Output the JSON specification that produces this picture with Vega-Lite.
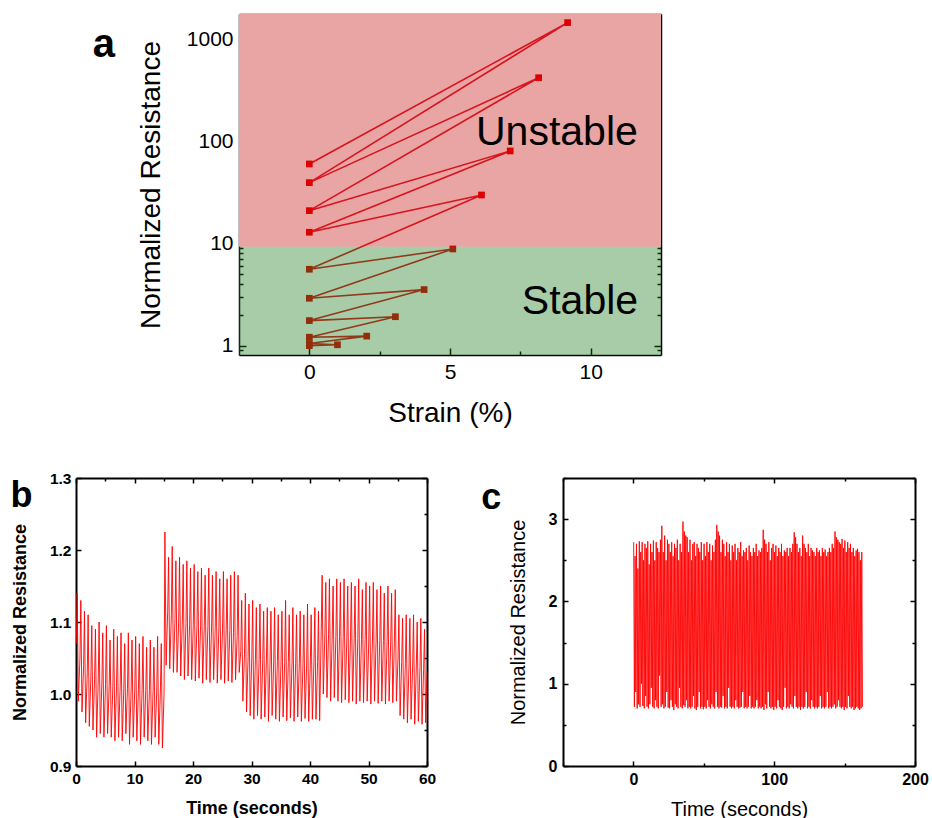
{
 "$schema": "https://vega.github.io/schema/vega-lite/v6.json",
 "padding": {"left": 10, "top": 13, "right": 0, "bottom": 0},
 "background": "white",
 "config": {
  "view": {"stroke": null},
  "font": "Liberation Sans",
  "axis": {"grid": false, "labelColor": "black", "titleColor": "black", "domainColor": "black", "tickColor": "black", "zindex": 1, "labelFont": "Liberation Sans", "titleFont": "Liberation Sans", "labelOverlap": false, "labelFlush": false}
 },
 "datasets": {
  "a": [{"i":1,"s":0,"r":1.0},{"i":2,"s":1.0,"r":1.02},{"i":3,"s":0,"r":1.05},{"i":4,"s":2.04,"r":1.24},{"i":5,"s":0,"r":1.21},{"i":6,"s":3.06,"r":1.92},{"i":7,"s":0,"r":1.76},{"i":8,"s":4.08,"r":3.54},{"i":9,"s":0,"r":2.91},{"i":10,"s":5.1,"r":8.85},{"i":11,"s":0,"r":5.6},{"i":12,"s":6.12,"r":29.9},{"i":13,"s":0,"r":12.9},{"i":14,"s":7.14,"r":80.7},{"i":15,"s":0,"r":21.0},{"i":16,"s":8.15,"r":421},{"i":17,"s":0,"r":39.5},{"i":18,"s":9.18,"r":1458},{"i":19,"s":0,"r":60.2}],
  "b": [
{"t":0.05,"r":1.07},{"t":0.2,"r":1.14},{"t":0.4,"r":0.99},
{"t":0.675,"r":1.05},{"t":0.825,"r":1.13},{"t":1.025,"r":0.975},
{"t":1.3,"r":1.04},{"t":1.45,"r":1.115},{"t":1.65,"r":0.96},
{"t":1.925,"r":1.03},{"t":2.075,"r":1.11},{"t":2.275,"r":0.955},
{"t":2.55,"r":1.025},{"t":2.7,"r":1.095},{"t":2.9,"r":0.95},
{"t":3.175,"r":1.02},{"t":3.325,"r":1.09},{"t":3.525,"r":0.94},
{"t":3.8,"r":1.018},{"t":3.95,"r":1.1},{"t":4.15,"r":0.945},
{"t":4.425,"r":1.015},{"t":4.575,"r":1.085},{"t":4.775,"r":0.94},
{"t":5.05,"r":1.013},{"t":5.2,"r":1.095},{"t":5.4,"r":0.945},
{"t":5.675,"r":1.012},{"t":5.825,"r":1.075},{"t":6.025,"r":0.94},
{"t":6.3,"r":1.01},{"t":6.45,"r":1.09},{"t":6.65,"r":0.935},
{"t":6.925,"r":1.01},{"t":7.075,"r":1.08},{"t":7.275,"r":0.94},
{"t":7.55,"r":1.01},{"t":7.7,"r":1.085},{"t":7.9,"r":0.935},
{"t":8.175,"r":1.008},{"t":8.325,"r":1.07},{"t":8.525,"r":0.945},
{"t":8.8,"r":1.008},{"t":8.95,"r":1.085},{"t":9.15,"r":0.93},
{"t":9.425,"r":1.007},{"t":9.575,"r":1.075},{"t":9.775,"r":0.94},
{"t":10.05,"r":1.007},{"t":10.2,"r":1.08},{"t":10.4,"r":0.935},
{"t":10.675,"r":1.006},{"t":10.825,"r":1.07},{"t":11.025,"r":0.93},
{"t":11.3,"r":1.006},{"t":11.45,"r":1.08},{"t":11.65,"r":0.94},
{"t":11.925,"r":1.005},{"t":12.075,"r":1.065},{"t":12.275,"r":0.935},
{"t":12.55,"r":1.005},{"t":12.7,"r":1.075},{"t":12.9,"r":0.93},
{"t":13.175,"r":1.005},{"t":13.325,"r":1.065},{"t":13.525,"r":0.94},
{"t":13.8,"r":1.004},{"t":13.95,"r":1.08},{"t":14.15,"r":0.93},
{"t":14.425,"r":1.004},{"t":14.575,"r":1.07},{"t":14.775,"r":0.925},
{"t":15.05,"r":1.0},{"t":15.2,"r":1.225},{"t":15.4,"r":1.04},
{"t":15.675,"r":1.115},{"t":15.825,"r":1.19},{"t":16.025,"r":1.035},
{"t":16.3,"r":1.11},{"t":16.45,"r":1.205},{"t":16.65,"r":1.03},
{"t":16.925,"r":1.105},{"t":17.075,"r":1.185},{"t":17.275,"r":1.03},
{"t":17.55,"r":1.1},{"t":17.7,"r":1.19},{"t":17.9,"r":1.025},
{"t":18.175,"r":1.1},{"t":18.325,"r":1.18},{"t":18.525,"r":1.02},
{"t":18.8,"r":1.098},{"t":18.95,"r":1.185},{"t":19.15,"r":1.025},
{"t":19.425,"r":1.097},{"t":19.575,"r":1.175},{"t":19.775,"r":1.02},
{"t":20.05,"r":1.096},{"t":20.2,"r":1.18},{"t":20.4,"r":1.018},
{"t":20.675,"r":1.095},{"t":20.825,"r":1.17},{"t":21.025,"r":1.022},
{"t":21.3,"r":1.095},{"t":21.45,"r":1.175},{"t":21.65,"r":1.015},
{"t":21.925,"r":1.094},{"t":22.075,"r":1.165},{"t":22.275,"r":1.02},
{"t":22.55,"r":1.094},{"t":22.7,"r":1.175},{"t":22.9,"r":1.016},
{"t":23.175,"r":1.093},{"t":23.325,"r":1.165},{"t":23.525,"r":1.02},
{"t":23.8,"r":1.092},{"t":23.95,"r":1.17},{"t":24.15,"r":1.015},
{"t":24.425,"r":1.092},{"t":24.575,"r":1.16},{"t":24.775,"r":1.02},
{"t":25.05,"r":1.09},{"t":25.2,"r":1.17},{"t":25.4,"r":1.015},
{"t":25.675,"r":1.09},{"t":25.825,"r":1.16},{"t":26.025,"r":1.018},
{"t":26.3,"r":1.088},{"t":26.45,"r":1.165},{"t":26.65,"r":1.016},
{"t":26.925,"r":1.085},{"t":27.075,"r":1.17},{"t":27.275,"r":1.02},
{"t":27.55,"r":1.08},{"t":27.7,"r":1.165},{"t":27.9,"r":1.03},
{"t":28.175,"r":1.06},{"t":28.325,"r":1.13},{"t":28.525,"r":0.99},
{"t":28.8,"r":1.055},{"t":28.95,"r":1.14},{"t":29.15,"r":0.975},
{"t":29.425,"r":1.052},{"t":29.575,"r":1.125},{"t":29.775,"r":0.97},
{"t":30.05,"r":1.05},{"t":30.2,"r":1.13},{"t":30.4,"r":0.965},
{"t":30.675,"r":1.05},{"t":30.825,"r":1.12},{"t":31.025,"r":0.97},
{"t":31.3,"r":1.048},{"t":31.45,"r":1.125},{"t":31.65,"r":0.965},
{"t":31.925,"r":1.048},{"t":32.075,"r":1.115},{"t":32.275,"r":0.968},
{"t":32.55,"r":1.047},{"t":32.7,"r":1.12},{"t":32.9,"r":0.962},
{"t":33.175,"r":1.046},{"t":33.325,"r":1.115},{"t":33.525,"r":0.97},
{"t":33.8,"r":1.046},{"t":33.95,"r":1.12},{"t":34.15,"r":0.965},
{"t":34.425,"r":1.045},{"t":34.575,"r":1.11},{"t":34.775,"r":0.962},
{"t":35.05,"r":1.045},{"t":35.2,"r":1.115},{"t":35.4,"r":0.968},
{"t":35.675,"r":1.044},{"t":35.825,"r":1.13},{"t":36.025,"r":0.963},
{"t":36.3,"r":1.044},{"t":36.45,"r":1.11},{"t":36.65,"r":0.967},
{"t":36.925,"r":1.043},{"t":37.075,"r":1.12},{"t":37.275,"r":0.962},
{"t":37.55,"r":1.042},{"t":37.7,"r":1.11},{"t":37.9,"r":0.968},
{"t":38.175,"r":1.042},{"t":38.325,"r":1.115},{"t":38.525,"r":0.962},
{"t":38.8,"r":1.041},{"t":38.95,"r":1.11},{"t":39.15,"r":0.966},
{"t":39.425,"r":1.04},{"t":39.575,"r":1.125},{"t":39.775,"r":0.962},
{"t":40.05,"r":1.04},{"t":40.2,"r":1.11},{"t":40.4,"r":0.965},
{"t":40.675,"r":1.045},{"t":40.825,"r":1.12},{"t":41.025,"r":0.965},
{"t":41.3,"r":1.045},{"t":41.45,"r":1.115},{"t":41.65,"r":0.963},
{"t":41.925,"r":1.09},{"t":42.075,"r":1.165},{"t":42.275,"r":1.0},
{"t":42.55,"r":1.085},{"t":42.7,"r":1.155},{"t":42.9,"r":0.995},
{"t":43.175,"r":1.083},{"t":43.325,"r":1.16},{"t":43.525,"r":0.99},
{"t":43.8,"r":1.082},{"t":43.95,"r":1.15},{"t":44.15,"r":0.995},
{"t":44.425,"r":1.08},{"t":44.575,"r":1.16},{"t":44.775,"r":0.99},
{"t":45.05,"r":1.08},{"t":45.2,"r":1.155},{"t":45.4,"r":0.988},
{"t":45.675,"r":1.079},{"t":45.825,"r":1.16},{"t":46.025,"r":0.992},
{"t":46.3,"r":1.078},{"t":46.45,"r":1.15},{"t":46.65,"r":0.988},
{"t":46.925,"r":1.078},{"t":47.075,"r":1.155},{"t":47.275,"r":0.99},
{"t":47.55,"r":1.077},{"t":47.7,"r":1.15},{"t":47.9,"r":0.986},
{"t":48.175,"r":1.077},{"t":48.325,"r":1.16},{"t":48.525,"r":0.99},
{"t":48.8,"r":1.076},{"t":48.95,"r":1.145},{"t":49.15,"r":0.988},
{"t":49.425,"r":1.076},{"t":49.575,"r":1.155},{"t":49.775,"r":0.99},
{"t":50.05,"r":1.075},{"t":50.2,"r":1.15},{"t":50.4,"r":0.986},
{"t":50.675,"r":1.075},{"t":50.825,"r":1.155},{"t":51.025,"r":0.99},
{"t":51.3,"r":1.075},{"t":51.45,"r":1.145},{"t":51.65,"r":0.987},
{"t":51.925,"r":1.074},{"t":52.075,"r":1.15},{"t":52.275,"r":0.99},
{"t":52.55,"r":1.074},{"t":52.7,"r":1.14},{"t":52.9,"r":0.986},
{"t":53.175,"r":1.073},{"t":53.325,"r":1.15},{"t":53.525,"r":0.99},
{"t":53.8,"r":1.073},{"t":53.95,"r":1.14},{"t":54.15,"r":0.988},
{"t":54.425,"r":1.072},{"t":54.575,"r":1.145},{"t":54.775,"r":0.99},
{"t":55.05,"r":1.05},{"t":55.2,"r":1.11},{"t":55.4,"r":0.97},
{"t":55.675,"r":1.045},{"t":55.825,"r":1.105},{"t":56.025,"r":0.965},
{"t":56.3,"r":1.042},{"t":56.45,"r":1.11},{"t":56.65,"r":0.96},
{"t":56.925,"r":1.04},{"t":57.075,"r":1.105},{"t":57.275,"r":0.965},
{"t":57.55,"r":1.04},{"t":57.7,"r":1.11},{"t":57.9,"r":0.958},
{"t":58.175,"r":1.039},{"t":58.325,"r":1.1},{"t":58.525,"r":0.962},
{"t":58.8,"r":1.038},{"t":58.95,"r":1.105},{"t":59.15,"r":0.958},
{"t":59.425,"r":1.035},{"t":59.575,"r":1.09},{"t":59.775,"r":0.96},
{"t":60,"r":1.03}
  ],
  "c": [
{"t":0.2,"r":2.72},{"t":0.7,"r":0.72},{"t":1.2,"r":2.55},{"t":1.7,"r":0.9},{"t":2.2,"r":2.7},{"t":2.7,"r":0.7},{"t":3.2,"r":2.4},{"t":3.7,"r":0.75},{"t":4.2,"r":2.73},{"t":4.7,"r":0.72},
{"t":5.2,"r":2.6},{"t":5.7,"r":1.0},{"t":6.2,"r":2.72},{"t":6.7,"r":0.73},{"t":7.2,"r":2.5},{"t":7.7,"r":0.7},{"t":8.2,"r":2.7},{"t":8.7,"r":0.85},{"t":9.2,"r":2.65},{"t":9.7,"r":0.72},
{"t":10.2,"r":2.73},{"t":10.7,"r":0.7},{"t":11.2,"r":2.45},{"t":11.7,"r":0.75},{"t":12.2,"r":2.7},{"t":12.7,"r":0.95},{"t":13.2,"r":2.6},{"t":13.7,"r":0.72},{"t":14.2,"r":2.74},{"t":14.7,"r":0.7},
{"t":15.2,"r":2.5},{"t":15.7,"r":0.8},{"t":16.2,"r":2.72},{"t":16.7,"r":0.72},{"t":17.2,"r":2.65},{"t":17.7,"r":0.7},{"t":18.2,"r":2.6},{"t":18.7,"r":1.1},{"t":19.2,"r":2.75},{"t":19.7,"r":0.72},
{"t":20.2,"r":2.92},{"t":20.7,"r":0.75},{"t":21.2,"r":2.6},{"t":21.7,"r":0.7},{"t":22.2,"r":2.8},{"t":22.7,"r":0.72},{"t":23.2,"r":2.5},{"t":23.7,"r":0.9},{"t":24.2,"r":2.75},{"t":24.7,"r":0.71},
{"t":25.2,"r":2.7},{"t":25.7,"r":0.7},{"t":26.2,"r":2.6},{"t":26.7,"r":0.8},{"t":27.2,"r":2.72},{"t":27.7,"r":0.72},{"t":28.2,"r":2.55},{"t":28.7,"r":0.68},{"t":29.2,"r":2.7},{"t":29.7,"r":0.75},
{"t":30.2,"r":2.65},{"t":30.7,"r":0.72},{"t":31.2,"r":2.75},{"t":31.7,"r":0.7},{"t":32.2,"r":2.5},{"t":32.7,"r":0.95},{"t":33.2,"r":2.7},{"t":33.7,"r":0.72},{"t":34.2,"r":2.6},{"t":34.7,"r":0.7},
{"t":35.2,"r":2.97},{"t":35.7,"r":0.74},{"t":36.2,"r":2.85},{"t":36.7,"r":0.72},{"t":37.2,"r":2.8},{"t":37.7,"r":0.8},{"t":38.2,"r":2.78},{"t":38.7,"r":0.7},{"t":39.2,"r":2.6},{"t":39.7,"r":0.72},
{"t":40.2,"r":2.75},{"t":40.7,"r":0.7},{"t":41.2,"r":2.5},{"t":41.7,"r":0.72},{"t":42.2,"r":2.7},{"t":42.7,"r":0.85},{"t":43.2,"r":2.72},{"t":43.7,"r":0.7},{"t":44.2,"r":2.55},{"t":44.7,"r":0.68},
{"t":45.2,"r":2.7},{"t":45.7,"r":0.72},{"t":46.2,"r":2.65},{"t":46.7,"r":0.9},{"t":47.2,"r":2.6},{"t":47.7,"r":0.7},{"t":48.2,"r":2.72},{"t":48.7,"r":0.72},{"t":49.2,"r":2.5},{"t":49.7,"r":0.69},
{"t":50.2,"r":2.7},{"t":50.7,"r":0.72},{"t":51.2,"r":2.55},{"t":51.7,"r":0.7},{"t":52.2,"r":2.72},{"t":52.7,"r":0.8},{"t":53.2,"r":2.6},{"t":53.7,"r":0.72},{"t":54.2,"r":2.7},{"t":54.7,"r":0.7},
{"t":55.2,"r":2.5},{"t":55.7,"r":0.75},{"t":56.2,"r":2.68},{"t":56.7,"r":0.72},{"t":57.2,"r":2.6},{"t":57.7,"r":0.7},{"t":58.2,"r":2.75},{"t":58.7,"r":0.9},{"t":59.2,"r":2.93},{"t":59.7,"r":0.72},
{"t":60.2,"r":2.85},{"t":60.7,"r":0.7},{"t":61.2,"r":2.8},{"t":61.7,"r":0.72},{"t":62.2,"r":2.6},{"t":62.7,"r":0.71},{"t":63.2,"r":2.75},{"t":63.7,"r":0.85},{"t":64.2,"r":2.7},{"t":64.7,"r":0.7},
{"t":65.2,"r":2.55},{"t":65.7,"r":0.72},{"t":66.2,"r":2.72},{"t":66.7,"r":0.7},{"t":67.2,"r":2.6},{"t":67.7,"r":0.95},{"t":68.2,"r":2.7},{"t":68.7,"r":0.72},{"t":69.2,"r":2.5},{"t":69.7,"r":0.7},
{"t":70.2,"r":2.68},{"t":70.7,"r":0.72},{"t":71.2,"r":2.6},{"t":71.7,"r":0.7},{"t":72.2,"r":2.7},{"t":72.7,"r":0.8},{"t":73.2,"r":2.5},{"t":73.7,"r":0.72},{"t":74.2,"r":2.65},{"t":74.7,"r":0.7},
{"t":75.2,"r":2.6},{"t":75.7,"r":0.71},{"t":76.2,"r":2.72},{"t":76.7,"r":0.72},{"t":77.2,"r":2.55},{"t":77.7,"r":0.9},{"t":78.2,"r":2.62},{"t":78.7,"r":0.7},{"t":79.2,"r":2.6},{"t":79.7,"r":0.72},
{"t":80.2,"r":2.65},{"t":80.7,"r":0.7},{"t":81.2,"r":2.5},{"t":81.7,"r":0.72},{"t":82.2,"r":2.68},{"t":82.7,"r":0.85},{"t":83.2,"r":2.6},{"t":83.7,"r":0.7},{"t":84.2,"r":2.55},{"t":84.7,"r":0.72},
{"t":85.2,"r":2.65},{"t":85.7,"r":0.7},{"t":86.2,"r":2.6},{"t":86.7,"r":0.72},{"t":87.2,"r":2.7},{"t":87.7,"r":0.8},{"t":88.2,"r":2.55},{"t":88.7,"r":0.7},{"t":89.2,"r":2.62},{"t":89.7,"r":0.72},
{"t":90.2,"r":2.6},{"t":90.7,"r":0.7},{"t":91.2,"r":2.65},{"t":91.7,"r":0.72},{"t":92.2,"r":2.87},{"t":92.7,"r":0.68},{"t":93.2,"r":2.75},{"t":93.7,"r":0.75},{"t":94.2,"r":2.7},{"t":94.7,"r":0.7},
{"t":95.2,"r":2.6},{"t":95.7,"r":0.9},{"t":96.2,"r":2.72},{"t":96.7,"r":0.72},{"t":97.2,"r":2.5},{"t":97.7,"r":0.7},{"t":98.2,"r":2.65},{"t":98.7,"r":0.72},{"t":99.2,"r":2.7},{"t":99.7,"r":0.68},
{"t":100.2,"r":2.6},{"t":100.7,"r":0.72},{"t":101.2,"r":2.68},{"t":101.7,"r":0.7},{"t":102.2,"r":2.55},{"t":102.7,"r":0.8},{"t":103.2,"r":2.65},{"t":103.7,"r":0.72},{"t":104.2,"r":2.6},{"t":104.7,"r":0.7},
{"t":105.2,"r":2.7},{"t":105.7,"r":0.68},{"t":106.2,"r":2.55},{"t":106.7,"r":0.72},{"t":107.2,"r":2.62},{"t":107.7,"r":0.95},{"t":108.2,"r":2.6},{"t":108.7,"r":0.7},{"t":109.2,"r":2.65},{"t":109.7,"r":0.72},
{"t":110.2,"r":2.55},{"t":110.7,"r":0.7},{"t":111.2,"r":2.65},{"t":111.7,"r":0.75},{"t":112.2,"r":2.6},{"t":112.7,"r":0.72},{"t":113.2,"r":2.7},{"t":113.7,"r":0.7},{"t":114.2,"r":2.84},{"t":114.7,"r":0.85},
{"t":115.2,"r":2.78},{"t":115.7,"r":0.72},{"t":116.2,"r":2.7},{"t":116.7,"r":0.7},{"t":117.2,"r":2.6},{"t":117.7,"r":0.72},{"t":118.2,"r":2.65},{"t":118.7,"r":0.68},{"t":119.2,"r":2.55},{"t":119.7,"r":0.72},
{"t":120.2,"r":2.8},{"t":120.7,"r":0.7},{"t":121.2,"r":2.7},{"t":121.7,"r":0.72},{"t":122.2,"r":2.65},{"t":122.7,"r":0.9},{"t":123.2,"r":2.6},{"t":123.7,"r":0.7},{"t":124.2,"r":2.7},{"t":124.7,"r":0.72},
{"t":125.2,"r":2.55},{"t":125.7,"r":0.7},{"t":126.2,"r":2.65},{"t":126.7,"r":0.8},{"t":127.2,"r":2.62},{"t":127.7,"r":0.72},{"t":128.2,"r":2.6},{"t":128.7,"r":0.7},{"t":129.2,"r":2.55},{"t":129.7,"r":0.72},
{"t":130.2,"r":2.65},{"t":130.7,"r":0.7},{"t":131.2,"r":2.6},{"t":131.7,"r":0.72},{"t":132.2,"r":2.62},{"t":132.7,"r":0.85},{"t":133.2,"r":2.55},{"t":133.7,"r":0.7},{"t":134.2,"r":2.65},{"t":134.7,"r":0.72},
{"t":135.2,"r":2.6},{"t":135.7,"r":0.7},{"t":136.2,"r":2.63},{"t":136.7,"r":0.72},{"t":137.2,"r":2.55},{"t":137.7,"r":0.9},{"t":138.2,"r":2.6},{"t":138.7,"r":0.7},{"t":139.2,"r":2.65},{"t":139.7,"r":0.72},
{"t":140.2,"r":2.6},{"t":140.7,"r":0.7},{"t":141.2,"r":2.7},{"t":141.7,"r":0.72},{"t":142.2,"r":2.65},{"t":142.7,"r":0.75},{"t":143.2,"r":2.85},{"t":143.7,"r":0.7},{"t":144.2,"r":2.78},{"t":144.7,"r":0.72},
{"t":145.2,"r":2.75},{"t":145.7,"r":0.8},{"t":146.2,"r":2.72},{"t":146.7,"r":0.72},{"t":147.2,"r":2.7},{"t":147.7,"r":0.7},{"t":148.2,"r":2.76},{"t":148.7,"r":0.72},{"t":149.2,"r":2.65},{"t":149.7,"r":0.68},
{"t":150.2,"r":2.74},{"t":150.7,"r":0.72},{"t":151.2,"r":2.6},{"t":151.7,"r":0.7},{"t":152.2,"r":2.72},{"t":152.7,"r":0.85},{"t":153.2,"r":2.65},{"t":153.7,"r":0.72},{"t":154.2,"r":2.7},{"t":154.7,"r":0.7},
{"t":155.2,"r":2.6},{"t":155.7,"r":0.72},{"t":156.2,"r":2.65},{"t":156.7,"r":0.68},{"t":157.2,"r":2.55},{"t":157.7,"r":0.7},{"t":158.2,"r":2.62},{"t":158.7,"r":0.72},{"t":159.2,"r":2.64},{"t":159.7,"r":0.7},
{"t":160.2,"r":2.6},{"t":160.7,"r":0.68},{"t":161.2,"r":2.5},{"t":161.7,"r":0.7},{"t":162.2,"r":2.6},{"t":162.7,"r":0.72}
  ]
 },
 "spacing": 43,
 "vconcat": [
  {
   "bounds": "flush",
   "spacing": 28,
   "hconcat": [
    {"width": 135, "height": 20, "data": {"values": [{}]}, "mark": {"type": "text", "text": ""}},
    {
     "width": 422, "height": 341,
     "resolve": {"scale": {"x": "independent", "y": "independent"}},
     "layer": [
      {
       "layer": [
        {"data": {"values": [{}]}, "mark": {"type": "rect", "color": "#e9a4a4"},
         "encoding": {
          "x": {"datum": -2.5, "type": "quantitative", "scale": {"domain": [-2.5, 12.5], "nice": false, "zero": false}},
          "x2": {"datum": 12.5},
          "y": {"datum": 9.3, "type": "quantitative", "scale": {"type": "log", "domain": [0.81, 1770], "nice": false}},
          "y2": {"datum": 1770}}},
        {"data": {"name": "a"}, "mark": {"type": "line", "color": "#d8141e", "strokeWidth": 1.6},
         "encoding": {
          "x": {"field": "s", "type": "quantitative", "scale": {"domain": [-2.5, 12.5], "nice": false, "zero": false},
           "axis": {"title": "Strain (%)", "values": [0, 2.5, 5, 7.5, 10], "labelExpr": "datum.value % 5 === 0 ? datum.label : ''",
            "tickSize": {"condition": {"test": "datum.value % 5 === 0", "value": -7}, "value": -4},
            "labelPadding": 13, "labelFontSize": 21, "titleFontSize": 28, "titleFontWeight": "normal", "titlePadding": 14, "domainWidth": 1.5, "tickWidth": 1.5}},
          "y": {"field": "r", "type": "quantitative", "scale": {"type": "log", "domain": [0.81, 1770], "nice": false},
           "axis": {"title": "Normalized Resistance", "values": [0.9,1,2,3,4,5,6,7,8,9,10,20,30,40,50,60,70,80,90,100,200,300,400,500,600,700,800,900,1000],
            "labelExpr": "(datum.value === 1 || datum.value === 10 || datum.value === 100 || datum.value === 1000) ? format(datum.value, 'd') : ''",
            "tickSize": {"condition": {"test": "datum.value === 1 || datum.value === 10 || datum.value === 100 || datum.value === 1000", "value": -7}, "value": -4},
            "labelPadding": 13, "labelFontSize": 21, "titleFontSize": 28, "titleFontWeight": "normal", "titlePadding": 21, "domainWidth": 1.5, "tickWidth": 1.5}},
          "order": {"field": "i"}}},
        {"data": {"name": "a"}, "mark": {"type": "point", "shape": "square", "filled": true, "size": 45, "color": "#dd0000", "opacity": 1},
         "encoding": {
          "x": {"field": "s", "type": "quantitative", "scale": {"domain": [-2.5, 12.5], "nice": false, "zero": false}},
          "y": {"field": "r", "type": "quantitative", "scale": {"type": "log", "domain": [0.81, 1770], "nice": false}}}},
        {"data": {"values": [{}]}, "mark": {"type": "rect", "color": "#187918", "opacity": 0.38},
         "encoding": {
          "x": {"datum": -2.5, "type": "quantitative", "scale": {"domain": [-2.5, 12.5], "nice": false, "zero": false}},
          "x2": {"datum": 12.5},
          "y": {"datum": 0.81, "type": "quantitative", "scale": {"type": "log", "domain": [0.81, 1770], "nice": false}},
          "y2": {"datum": 9.3}}},
        {"data": {"values": [{}]}, "mark": {"type": "text", "text": "Unstable", "fontSize": 41, "color": "black"},
         "encoding": {"x": {"datum": 8.8, "type": "quantitative"}, "y": {"datum": 121, "type": "quantitative"}}},
        {"data": {"values": [{}]}, "mark": {"type": "text", "text": "Stable", "fontSize": 41, "color": "black"},
         "encoding": {"x": {"datum": 9.62, "type": "quantitative"}, "y": {"datum": 2.68, "type": "quantitative"}}},
        {"data": {"values": [{}]}, "mark": {"type": "text", "text": "a", "fontSize": 40, "fontWeight": "bold", "color": "black"},
         "encoding": {"x": {"datum": -7.3, "type": "quantitative"}, "y": {"datum": 880, "type": "quantitative"}}}
       ]
      },
      {"data": {"values": [{"x": 0, "y": 1}]}, "mark": {"type": "point", "opacity": 0},
       "encoding": {
        "x": {"field": "x", "type": "quantitative", "scale": {"domain": [-2.5, 12.5], "nice": false, "zero": false},
         "axis": {"orient": "top", "title": null, "labels": false, "values": [0, 2.5, 5, 7.5, 10],
          "tickSize": {"condition": {"test": "datum.value % 5 === 0", "value": -7}, "value": -4}, "domainWidth": 1.5, "tickWidth": 1.5}},
        "y": {"field": "y", "type": "quantitative", "scale": {"type": "log", "domain": [0.81, 1770], "nice": false},
         "axis": {"orient": "right", "title": null, "labels": false, "values": [0.9,1,2,3,4,5,6,7,8,9,10,20,30,40,50,60,70,80,90,100,200,300,400,500,600,700,800,900,1000],
          "tickSize": {"condition": {"test": "datum.value === 1 || datum.value === 10 || datum.value === 100 || datum.value === 1000", "value": -7}, "value": -4}, "domainWidth": 1.5, "tickWidth": 1.5}}}}
     ]
    }
   ]
  },
  {
   "bounds": "flush",
   "spacing": 136,
   "hconcat": [
    {
     "width": 351, "height": 288,
     "resolve": {"scale": {"x": "independent", "y": "independent"}},
     "layer": [
      {
       "layer": [
        {"data": {"name": "b"}, "mark": {"type": "line", "color": "#ff0000", "strokeWidth": 0.9},
         "encoding": {
          "x": {"field": "t", "type": "quantitative", "scale": {"domain": [0, 60], "nice": false, "zero": false},
           "axis": {"title": "Time (seconds)", "values": [0,5,10,15,20,25,30,35,40,45,50,55,60], "labelExpr": "datum.value % 10 === 0 ? datum.label : ''",
            "tickSize": {"condition": {"test": "datum.value % 10 === 0", "value": -5}, "value": -3},
            "labelPadding": 10, "labelFontSize": 15.5, "labelFontWeight": "bold", "titleFontSize": 18, "titleFontWeight": "bold", "titlePadding": 13, "domainWidth": 2, "tickWidth": 1.5}},
          "y": {"field": "r", "type": "quantitative", "scale": {"domain": [0.9, 1.3], "nice": false, "zero": false},
           "axis": {"title": "Normalized Resistance", "values": [0.9,0.95,1.0,1.05,1.1,1.15,1.2,1.25,1.3],
            "labelExpr": "abs(datum.value*10 - round(datum.value*10)) < 0.001 ? format(datum.value, '.1f') : ''",
            "tickSize": {"condition": {"test": "abs(datum.value*10 - round(datum.value*10)) < 0.001", "value": -5}, "value": -3},
            "labelPadding": 10, "labelFontSize": 15.5, "labelFontWeight": "bold", "titleFontSize": 18, "titleFontWeight": "bold", "titlePadding": 20, "domainWidth": 2, "tickWidth": 1.5}}}},
        {"data": {"values": [{}]}, "mark": {"type": "text", "text": "b", "fontSize": 36, "fontWeight": "bold", "color": "black"},
         "encoding": {"x": {"datum": -9.3, "type": "quantitative"}, "y": {"datum": 1.275, "type": "quantitative"}}}
       ]
      },
      {"data": {"values": [{"x": 0, "y": 1}]}, "mark": {"type": "point", "opacity": 0},
       "encoding": {
        "x": {"field": "x", "type": "quantitative", "scale": {"domain": [0, 60], "nice": false, "zero": false},
         "axis": {"orient": "top", "title": null, "labels": false, "values": [0,5,10,15,20,25,30,35,40,45,50,55,60],
          "tickSize": {"condition": {"test": "datum.value % 10 === 0", "value": -5}, "value": -3}, "domainWidth": 2, "tickWidth": 1.5}},
        "y": {"field": "y", "type": "quantitative", "scale": {"domain": [0.9, 1.3], "nice": false, "zero": false},
         "axis": {"orient": "right", "title": null, "labels": false, "values": [0.9,0.95,1.0,1.05,1.1,1.15,1.2,1.25,1.3],
          "tickSize": {"condition": {"test": "abs(datum.value*10 - round(datum.value*10)) < 0.001", "value": -5}, "value": -3}, "domainWidth": 2, "tickWidth": 1.5}}}}
     ]
    },
    {
     "width": 352, "height": 288,
     "resolve": {"scale": {"x": "independent", "y": "independent"}},
     "layer": [
      {
       "layer": [
        {"data": {"name": "c"}, "mark": {"type": "line", "color": "#ff0000", "strokeWidth": 0.9},
         "encoding": {
          "x": {"field": "t", "type": "quantitative", "scale": {"domain": [-50, 200], "nice": false, "zero": false},
           "axis": {"title": "Time (seconds)", "values": [-50, 0, 50, 100, 150, 200], "labelExpr": "datum.value % 100 === 0 ? datum.label : ''",
            "tickSize": {"condition": {"test": "datum.value % 100 === 0", "value": -5}, "value": -3},
            "labelPadding": 10, "labelFontSize": 16, "labelFontWeight": "bold", "titleFontSize": 20, "titleFontWeight": "normal", "titlePadding": 10, "domainWidth": 2, "tickWidth": 1.5}},
          "y": {"field": "r", "type": "quantitative", "scale": {"domain": [0, 3.5], "nice": false, "zero": false},
           "axis": {"title": "Normalized Resistance", "values": [0, 0.5, 1, 1.5, 2, 2.5, 3, 3.5],
            "labelExpr": "datum.value % 1 === 0 ? format(datum.value, 'd') : ''",
            "tickSize": {"condition": {"test": "datum.value % 1 === 0", "value": -5}, "value": -3},
            "labelPadding": 11, "labelFontSize": 16, "labelFontWeight": "bold", "titleFontSize": 20, "titleFontWeight": "normal", "titlePadding": 20, "domainWidth": 2, "tickWidth": 1.5}}}},
        {"data": {"values": [{}]}, "mark": {"type": "text", "text": "c", "fontSize": 36, "fontWeight": "bold", "color": "black"},
         "encoding": {"x": {"datum": -101, "type": "quantitative"}, "y": {"datum": 3.26, "type": "quantitative"}}}
       ]
      },
      {"data": {"values": [{"x": 0, "y": 1}]}, "mark": {"type": "point", "opacity": 0},
       "encoding": {
        "x": {"field": "x", "type": "quantitative", "scale": {"domain": [-50, 200], "nice": false, "zero": false},
         "axis": {"orient": "top", "title": null, "labels": false, "values": [-50, 0, 50, 100, 150, 200],
          "tickSize": {"condition": {"test": "datum.value % 100 === 0", "value": -5}, "value": -3}, "domainWidth": 2, "tickWidth": 1.5}},
        "y": {"field": "y", "type": "quantitative", "scale": {"domain": [0, 3.5], "nice": false, "zero": false},
         "axis": {"orient": "right", "title": null, "labels": false, "values": [0, 0.5, 1, 1.5, 2, 2.5, 3, 3.5],
          "tickSize": {"condition": {"test": "datum.value % 1 === 0", "value": -5}, "value": -3}, "domainWidth": 2, "tickWidth": 1.5}}}}
     ]
    }
   ]
  }
 ]
}
